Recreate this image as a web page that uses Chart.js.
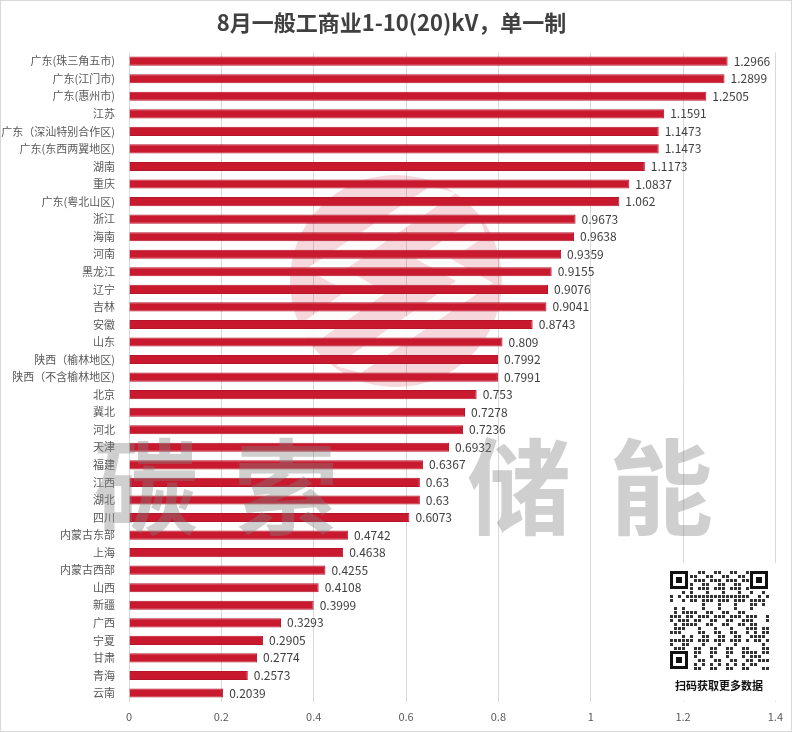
<!DOCTYPE html>
<html lang="zh">
<head>
  <meta charset="UTF-8" />
  <title>8月一般工商业1-10(20)kV，单一制</title>
  <script src="https://cdn.jsdelivr.net/npm/chart.js"></script>
  <style>
    html, body { margin: 0; padding: 0; background: #fff; }
    .wrap { width: 790px; height: 730px; border: 1px solid #d9d9d9; }
  </style>
</head>
<body>
  <div class="wrap">
    <canvas id="priceChart" width="790" height="730"></canvas>
  </div>

  <script>
    // regions (top to bottom) and their prices
    const regions = [
      '广东(珠三角五市)', '广东(江门市)', '广东(惠州市)', '江苏', '广东（深汕特别合作区)',
      '广东(东西两翼地区)', '湖南', '重庆', '广东(粤北山区)', '浙江', '海南', '河南',
      '黑龙江', '辽宁', '吉林', '安徽', '山东', '陕西（榆林地区)', '陕西（不含榆林地区)',
      '北京', '冀北', '河北', '天津', '福建', '江西', '湖北', '四川', '内蒙古东部', '上海',
      '内蒙古西部', '山西', '新疆', '广西', '宁夏', '甘肃', '青海', '云南'
    ];
    const prices = [
      1.2966, 1.2899, 1.2505, 1.1591, 1.1473,
      1.1473, 1.1173, 1.0837, 1.062, 0.9673, 0.9638, 0.9359,
      0.9155, 0.9076, 0.9041, 0.8743, 0.809, 0.7992, 0.7991,
      0.753, 0.7278, 0.7236, 0.6932, 0.6367, 0.63, 0.63, 0.6073, 0.4742, 0.4638,
      0.4255, 0.4108, 0.3999, 0.3293, 0.2905, 0.2774, 0.2573, 0.2039
    ];
    const xTicks = [0, 0.2, 0.4, 0.6, 0.8, 1, 1.2, 1.4];

    const FONT = '"Noto Sans CJK SC", "Noto Sans", sans-serif';

    // value labels at the end of each bar
    const valueLabels = {
      id: 'valueLabels',
      afterDatasetsDraw(chart) {
        const ctx = chart.ctx;
        const meta = chart.getDatasetMeta(0);
        ctx.save();
        ctx.font = '12px ' + FONT;
        ctx.fillStyle = '#404040';
        ctx.textAlign = 'left';
        ctx.textBaseline = 'middle';
        meta.data.forEach((bar, i) => {
          ctx.fillText(String(prices[i]), bar.x + 6, bar.y);
        });
        ctx.restore();
      }
    };

    // faint logo + watermark text + qr box
    const decor = {
      id: 'decor',
      beforeDatasetsDraw(chart) {
        const ctx = chart.ctx;
        ctx.save();
        ctx.fillStyle = 'rgba(200, 25, 47, 0.17)';
        ctx.beginPath();
        ctx.arc(395, 280, 106, 0, Math.PI * 2);
        ctx.fill();
        // white chevron cuts
        ctx.fillStyle = 'rgba(255,255,255,0.9)';
        ctx.beginPath();
        ctx.moveTo(455, 192); ctx.lineTo(345, 268); ctx.lineTo(385, 292);
        ctx.lineTo(310, 345); ctx.lineTo(290, 330); ctx.lineTo(345, 290);
        ctx.lineTo(305, 268); ctx.lineTo(430, 185); ctx.closePath();
        ctx.fill();
        ctx.beginPath();
        ctx.moveTo(478, 215); ctx.lineTo(415, 258); ctx.lineTo(455, 280);
        ctx.lineTo(335, 365); ctx.lineTo(360, 372); ctx.lineTo(492, 282);
        ctx.lineTo(450, 258); ctx.lineTo(485, 235); ctx.closePath();
        ctx.fill();
        ctx.restore();
      },
      afterDraw(chart) {
        const ctx = chart.ctx;
        ctx.save();
        ctx.font = 'bold 104px ' + FONT;
        ctx.fillStyle = 'rgba(130, 130, 130, 0.38)';
        ctx.textAlign = 'center';
        ctx.textBaseline = 'middle';
        const chars = ['碳', '索', '储', '能'];
        const cx = [145, 285, 518, 660];
        chars.forEach((c, i) => ctx.fillText(c, cx[i], 486));

        // qr code area
        ctx.fillStyle = '#fff';
        ctx.fillRect(660, 562, 118, 138);
        ctx.fillStyle = '#111';
        const finder = (x, y, s) => {
          ctx.fillRect(x, y, s, s);
          ctx.fillStyle = '#fff';
          ctx.fillRect(x + 3, y + 3, s - 6, s - 6);
          ctx.fillStyle = '#111';
          ctx.fillRect(x + 6, y + 6, s - 12, s - 12);
        };
        finder(669, 570, 18);
        finder(749, 570, 18);
        finder(669, 650, 18);
        ctx.fillStyle = '#333';
        let seed = 7;
        for (let gx = 0; gx < 25; gx++) {
          for (let gy = 0; gy < 25; gy++) {
            const px = 669 + gx * 4, py = 570 + gy * 4;
            if ((gx < 5 && gy < 5) || (gx > 19 && gy < 5) || (gx < 5 && gy > 19)) continue;
            seed = (seed * 73 + 41) % 101;
            if (seed % 2 === 0) ctx.fillRect(px, py, 3, 3);
          }
        }
        ctx.font = 'bold 11px ' + FONT;
        ctx.fillStyle = '#111';
        ctx.textAlign = 'center';
        ctx.fillText('扫码获取更多数据', 718, 685);
        ctx.restore();
      }
    };

    const ctx = document.getElementById('priceChart').getContext('2d');
    new Chart(ctx, {
      type: 'bar',
      data: {
        labels: regions,
        datasets: [{
          data: prices,
          backgroundColor: '#c8192e',
          borderColor: '#b5142a',
          borderWidth: 1,
          categoryPercentage: 1,
          barPercentage: 0.52
        }]
      },
      options: {
        indexAxis: 'y',
        responsive: false,
        animation: false,
        layout: { padding: { left: 0, right: 9, top: 0, bottom: 0 } },
        plugins: {
          legend: { display: false },
          tooltip: { enabled: false },
          title: {
            display: true,
            text: '8月一般工商业1-10(20)kV，单一制',
            color: '#404040',
            font: { family: FONT, size: 22, weight: 'bold' },
            padding: { top: 8, bottom: 17 }
          }
        },
        scales: {
          x: {
            min: 0,
            max: 1.4,
            afterBuildTicks(axis) {
              axis.ticks = xTicks.map(v => ({ value: v }));
            },
            grid: { color: '#d9d9d9', drawTicks: false },
            border: { display: false },
            ticks: {
              color: '#595959',
              font: { family: FONT, size: 11 },
              padding: 8,
              callback: v => String(v)
            }
          },
          y: {
            afterFit(axis) { axis.width = 128; },
            grid: { display: false },
            border: { display: false },
            ticks: {
              color: '#595959',
              font: { family: FONT, size: 11 },
              padding: 6,
              autoSkip: false
            }
          }
        }
      },
      plugins: [decor, valueLabels]
    });
  </script>
</body>
</html>
